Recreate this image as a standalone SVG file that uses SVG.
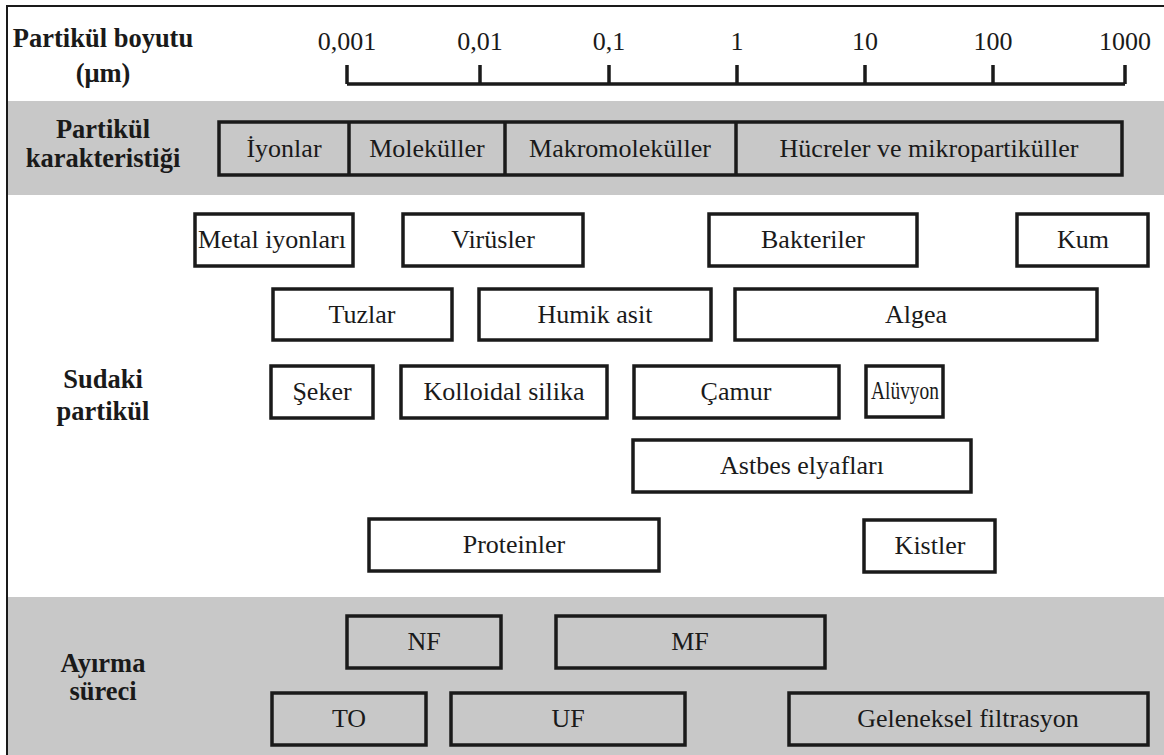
<svg xmlns="http://www.w3.org/2000/svg" width="1164" height="755" viewBox="0 0 1164 755">
<style>
.band{fill:#c8c8c8}
.box{fill:#ffffff;stroke:#1a1a1a;stroke-width:3.5}
.gbox{fill:#c8c8c8;stroke:#1a1a1a;stroke-width:3.5}
.t{font-size:26px;fill:#1a1a1a;text-anchor:middle}
.b{font-size:26.5px;font-weight:bold;fill:#1a1a1a;text-anchor:middle}
.ax{stroke:#1a1a1a;stroke-width:3.5;fill:none}
</style>
<rect x="0" y="0" width="1164" height="755" fill="#ffffff"/>
<rect class="band" x="8" y="101" width="1156" height="94"/>
<rect class="band" x="8" y="597" width="1156" height="158"/>
<rect x="7" y="6" width="1200" height="800" fill="none" stroke="#1a1a1a" stroke-width="2"/>

<g font-family="'Liberation Serif', Tinos, 'Times New Roman', 'DejaVu Serif', serif">
<g id="labels">
<text class="b" x="103" y="47">Partikül boyutu</text>
<text class="b" x="103" y="82">(μm)</text>
<text class="b" x="103" y="138">Partikül</text>
<text class="b" x="103" y="167">karakteristiği</text>
<text class="b" x="103" y="388">Sudaki</text>
<text class="b" x="103" y="420">partikül</text>
<text class="b" x="103" y="672">Ayırma</text>
<text class="b" x="103" y="700">süreci</text>
</g>

<g id="scale">
<path class="ax" d="M347 84 H1125 M347 65 V84 M480 65 V84 M609 65 V84 M737 65 V84 M865 65 V84 M993 65 V84 M1125 65 V84"/>
<text class="t" x="347" y="50">0,001</text>
<text class="t" x="480" y="50">0,01</text>
<text class="t" x="609" y="50">0,1</text>
<text class="t" x="737" y="50">1</text>
<text class="t" x="865" y="50">10</text>
<text class="t" x="993" y="50">100</text>
<text class="t" x="1125" y="50">1000</text>
</g>

<g id="characteristics">
<rect class="gbox" x="219" y="122" width="903" height="53"/>
<path class="ax" d="M349 122 V175 M505 122 V175 M736 122 V175"/>
<text class="t" x="284" y="157">İyonlar</text>
<text class="t" x="427" y="157">Moleküller</text>
<text class="t" x="620" y="157">Makromoleküller</text>
<text class="t" x="929" y="157">Hücreler ve mikropartiküller</text>
</g>

<g id="metal"><rect class="box" x="195" y="214" width="158" height="52"/><text class="t" x="272" y="248">Metal iyonları</text></g>
<g id="virusler"><rect class="box" x="403" y="214" width="180" height="52"/><text class="t" x="493" y="248">Virüsler</text></g>
<g id="bakteriler"><rect class="box" x="709" y="214" width="208" height="52"/><text class="t" x="813" y="248">Bakteriler</text></g>
<g id="kum"><rect class="box" x="1017" y="214" width="131" height="52"/><text class="t" x="1083" y="248">Kum</text></g>

<g id="tuzlar"><rect class="box" x="273" y="289" width="179" height="51"/><text class="t" x="362" y="323">Tuzlar</text></g>
<g id="humik"><rect class="box" x="479" y="289" width="232" height="51"/><text class="t" x="595" y="323">Humik asit</text></g>
<g id="algea"><rect class="box" x="735" y="289" width="362" height="51"/><text class="t" x="916" y="323">Algea</text></g>

<g id="seker"><rect class="box" x="271" y="366" width="102" height="52"/><text class="t" x="322" y="400">Şeker</text></g>
<g id="kolloidal"><rect class="box" x="401" y="366" width="206" height="52"/><text class="t" x="504" y="400">Kolloidal silika</text></g>
<g id="camur"><rect class="box" x="634" y="366" width="205" height="52"/><text class="t" x="736" y="400">Çamur</text></g>
<g id="aluvyon"><rect class="box" x="866" y="366" width="77" height="51"/><text class="t" x="905" y="399" font-size="23" textLength="68" lengthAdjust="spacingAndGlyphs">Alüvyon</text></g>

<g id="astbes"><rect class="box" x="633" y="440" width="338" height="52"/><text class="t" x="802" y="474">Astbes elyafları</text></g>

<g id="proteinler"><rect class="box" x="369" y="519" width="290" height="52"/><text class="t" x="514" y="553">Proteinler</text></g>
<g id="kistler"><rect class="box" x="864" y="520" width="131" height="52"/><text class="t" x="930" y="554">Kistler</text></g>

<g id="nf"><rect class="gbox" x="347" y="616" width="154" height="52"/><text class="t" x="424" y="650">NF</text></g>
<g id="mf"><rect class="gbox" x="556" y="616" width="269" height="52"/><text class="t" x="690" y="650">MF</text></g>
<g id="to"><rect class="gbox" x="272" y="693" width="154" height="52"/><text class="t" x="349" y="727">TO</text></g>
<g id="uf"><rect class="gbox" x="451" y="693" width="234" height="52"/><text class="t" x="568" y="727">UF</text></g>
<g id="geleneksel"><rect class="gbox" x="789" y="693" width="359" height="52"/><text class="t" x="968" y="727">Geleneksel filtrasyon</text></g>
</g>

<g id="connectors"></g>
</svg>
